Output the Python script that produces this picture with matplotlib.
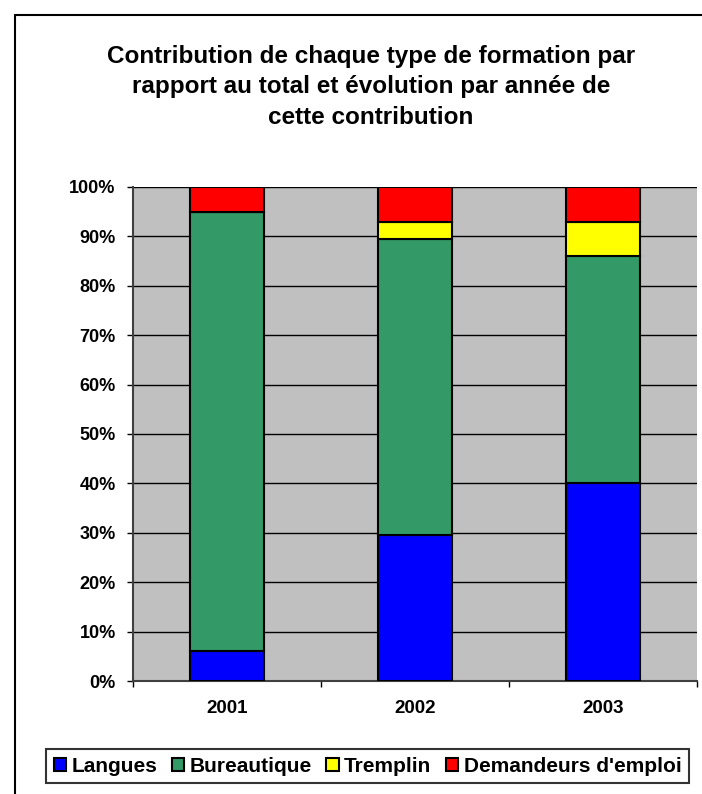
import matplotlib.pyplot as plt
from matplotlib.patches import Rectangle
import numpy as np

years = ['2001', '2002', '2003']
langues = [6, 29.5, 40]
bureautique = [89, 60, 46]
tremplin = [0, 3.5, 7]
demandeurs = [5, 7, 7]

series = [('Langues', langues, '#0000ff'),
          ('Bureautique', bureautique, '#339966'),
          ('Tremplin', tremplin, '#ffff00'),
          ('Demandeurs d\'emploi', demandeurs, '#ff0000')]

plt.rcParams['font.family'] = ['Liberation Sans', 'DejaVu Sans']

W, H = 702, 794
fig = plt.figure(figsize=(W / 100, H / 100), dpi=100)
ax = fig.add_axes([133 / W, 1 - 681 / H, (697 - 133) / W, (681 - 187) / H])
ax.set_facecolor('#c0c0c0')

x = np.arange(len(years))
bottom = np.zeros(len(years))
handles = []
for name, vals, color in series:
    vals = np.array(vals, dtype=float)
    b = ax.bar(x, vals, 0.393, bottom=bottom, color=color, edgecolor='black',
               linewidth=1.5, label=name, zorder=3)
    handles.append(b)
    bottom += vals

ax.set_xlim(-0.5, 2.5)
ax.set_ylim(0, 100)
ax.set_yticks(range(0, 101, 10))
ax.set_yticklabels(['%d%%' % v for v in range(0, 101, 10)],
                   fontsize=13, fontweight='bold')
ax.set_xticks(x)
ax.set_xticklabels(years, fontsize=13.5, fontweight='bold')
ax.yaxis.grid(True, color='black', linewidth=1, zorder=1)
ax.set_axisbelow(True)
for side in ['top', 'right']:
    ax.spines[side].set_visible(False)
ax.spines['left'].set_color('#404040')
ax.spines['bottom'].set_color('#404040')
ax.spines['left'].set_linewidth(1.5)
ax.spines['bottom'].set_linewidth(1.5)
ax.tick_params(axis='y', length=4.5, width=1, color='black', pad=8)
ax.tick_params(axis='x', length=0, pad=14)
# ticks between categories
ax.set_xticks([-0.5, 0.5, 1.5, 2.5], minor=True)
ax.tick_params(axis='x', which='minor', length=4.5, width=1, color='black')

fig.text(371 / W, 1 - 87 / H,
         'Contribution de chaque type de formation par\n'
         'rapport au total et évolution par année de\n'
         'cette contribution',
         ha='center', va='center', fontsize=17.5, fontweight='bold',
         linespacing=1.4)

leg = fig.legend(handles=handles, loc='center',
                 bbox_to_anchor=(367.5 / W, 1 - 766 / H), ncol=4,
                 frameon=True, fancybox=False, edgecolor='black',
                 prop={'weight': 'bold', 'size': 15},
                 handlelength=0.6, handleheight=0.6, handletextpad=0.25,
                 columnspacing=0.7, borderpad=0.35, borderaxespad=0)
leg.get_frame().set_linewidth(1.5)

fig.patches.append(Rectangle((15 / W, -0.1), 1, 1.1 - 15 / H,
                             transform=fig.transFigure, fill=False,
                             edgecolor='black', linewidth=1.5))

fig.savefig('out.png', dpi=100)
